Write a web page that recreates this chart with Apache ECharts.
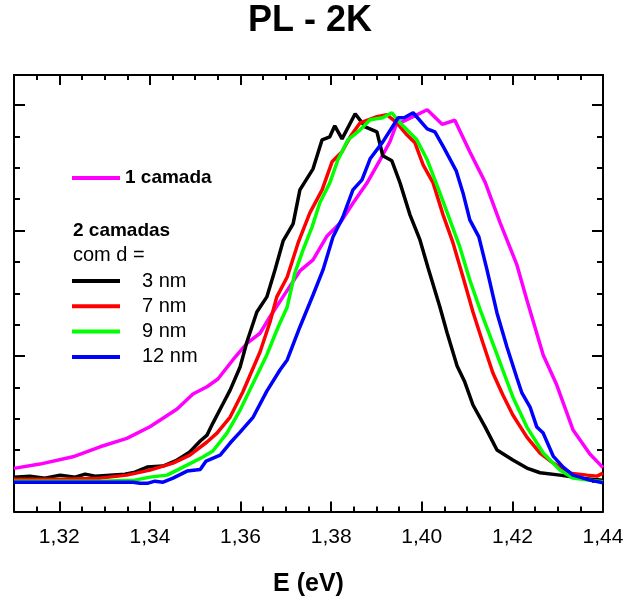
<!DOCTYPE html>
<html>
<head>
<meta charset="utf-8">
<script src="https://cdn.jsdelivr.net/npm/echarts@6/dist/echarts.min.js"></script>
<style>html,body{margin:0;padding:0;background:#fff;}#c{width:630px;height:596px;}</style>
</head>
<body>
<div id="c"></div>
<script>
// ---- data (E in eV, PL intensity in arbitrary units) ----
const camada1X = [1.3100,1.3157,1.3230,1.3290,1.3349,1.3400,1.3460,1.3495,1.3526,1.3550,1.3583,1.3614,1.3643,1.3665,1.3694,1.3731,1.3760,1.3791,1.3820,1.3848,1.3879,1.3908,1.3930,1.3945,1.3959,1.3974,1.4012,1.4045,1.4073,1.4106,1.4140,1.4173,1.4210,1.4232,1.4268,1.4298,1.4334,1.4371,1.4400];
const camada1Y = [0.104,0.138,0.196,0.276,0.343,0.436,0.577,0.697,0.755,0.816,0.968,1.101,1.181,1.313,1.473,1.678,1.766,1.957,2.061,2.218,2.378,2.564,2.710,2.856,2.869,2.896,2.963,2.847,2.879,2.628,2.384,2.061,1.726,1.447,1.008,0.768,0.409,0.218,0.110];

const d3X = [1.3100,1.3135,1.3168,1.3202,1.3235,1.3257,1.3279,1.3312,1.3345,1.3367,1.3394,1.3429,1.3460,1.3488,1.3511,1.3526,1.3539,1.3561,1.3577,1.3599,1.3614,1.3636,1.3658,1.3676,1.3694,1.3716,1.3731,1.3760,1.3780,1.3797,1.3808,1.3824,1.3853,1.3875,1.3901,1.3914,1.3934,1.3952,1.3974,1.3996,1.4014,1.4040,1.4056,1.4078,1.4095,1.4113,1.4140,1.4166,1.4201,1.4232,1.4261,1.4305,1.4349,1.4400];
const d3Y = [0.034,0.042,0.026,0.050,0.034,0.058,0.042,0.050,0.058,0.074,0.114,0.122,0.170,0.234,0.322,0.369,0.465,0.617,0.728,0.912,1.111,1.351,1.471,1.686,1.917,2.053,2.324,2.492,2.723,2.747,2.835,2.731,2.931,2.827,2.787,2.596,2.556,2.380,2.125,1.925,1.702,1.391,1.183,0.920,0.792,0.609,0.433,0.250,0.170,0.106,0.069,0.050,0.026,0.010];

const d7X = [1.3100,1.3202,1.3290,1.3349,1.3400,1.3451,1.3488,1.3526,1.3548,1.3577,1.3605,1.3643,1.3665,1.3680,1.3703,1.3727,1.3753,1.3780,1.3802,1.3824,1.3842,1.3864,1.3901,1.3923,1.3945,1.3967,1.3985,1.4003,1.4025,1.4047,1.4069,1.4091,1.4113,1.4135,1.4157,1.4179,1.4201,1.4232,1.4261,1.4290,1.4327,1.4365,1.4387,1.4400];
const d7Y = [0.018,0.018,0.026,0.050,0.090,0.146,0.210,0.314,0.385,0.513,0.713,1.032,1.271,1.471,1.630,1.901,2.141,2.324,2.548,2.628,2.747,2.859,2.907,2.923,2.859,2.763,2.699,2.524,2.380,2.125,1.901,1.630,1.351,1.103,0.864,0.689,0.529,0.353,0.226,0.146,0.066,0.050,0.042,0.066];

const d9X = [1.3100,1.3202,1.3290,1.3367,1.3400,1.3438,1.3482,1.3517,1.3539,1.3570,1.3599,1.3628,1.3658,1.3683,1.3703,1.3720,1.3738,1.3758,1.3775,1.3797,1.3815,1.3837,1.3864,1.3886,1.3914,1.3934,1.3952,1.3989,1.4012,1.4040,1.4062,1.4084,1.4106,1.4129,1.4173,1.4201,1.4232,1.4268,1.4305,1.4334,1.4371,1.4400];
const d9Y = [0.002,0.002,0.002,0.010,0.034,0.050,0.130,0.194,0.242,0.385,0.569,0.784,1.008,1.231,1.391,1.662,1.846,2.029,2.221,2.380,2.564,2.723,2.803,2.883,2.899,2.939,2.859,2.723,2.564,2.300,2.085,1.869,1.606,1.367,0.944,0.673,0.433,0.226,0.090,0.026,0.010,-0.003];

const d12X = [1.3100,1.3202,1.3290,1.3363,1.3378,1.3396,1.3411,1.3429,1.3451,1.3482,1.3511,1.3524,1.3555,1.3577,1.3599,1.3628,1.3658,1.3687,1.3703,1.3731,1.3760,1.3782,1.3804,1.3826,1.3848,1.3868,1.3886,1.3914,1.3948,1.3961,1.3981,1.4012,1.4029,1.4049,1.4076,1.4091,1.4106,1.4126,1.4144,1.4166,1.4188,1.4210,1.4221,1.4239,1.4254,1.4268,1.4290,1.4312,1.4334,1.4371,1.4400];
const d12Y = [-0.006,-0.006,-0.006,-0.006,-0.014,-0.014,0.002,-0.006,0.026,0.082,0.094,0.162,0.210,0.306,0.393,0.513,0.720,0.888,0.968,1.231,1.486,1.686,1.949,2.109,2.324,2.404,2.572,2.707,2.899,2.899,2.939,2.811,2.787,2.659,2.476,2.300,2.085,1.949,1.686,1.343,1.072,0.824,0.705,0.593,0.433,0.385,0.202,0.114,0.050,0.010,-0.011];

const xMajorTicks = [1.32,1.34,1.36,1.38,1.40,1.42,1.44];
const xMinorTicks = [1.315,1.325,1.33,1.335,1.345,1.35,1.355,1.365,1.37,1.375,1.385,1.39,1.395,1.405,1.41,1.415,1.425,1.43,1.435];
const yMajorTicks = [0,1,2,3];
const yMinorTicks = [0.25,0.5,0.75,1.25,1.5,1.75,2.25,2.5,2.75];

const seriesNames = ['1 camada','3 nm','7 nm','9 nm','12 nm'];
const seriesColors = ['#ff00ff','#000000','#ff0000','#00ff00','#0000ff'];

// ---- chart ----
const FONT = 'Liberation Sans, Arial, sans-serif';
const zip = (xs, ys) => xs.map((x, i) => [x, ys[i]]);
const allData = [zip(camada1X, camada1Y), zip(d3X, d3Y), zip(d7X, d7Y), zip(d9X, d9Y), zip(d12X, d12Y)];

const X_MIN = 1.31, X_MAX = 1.44, Y_MIN = -0.24, Y_MAX = 3.24;
function xAxisDef(pos, ticks, len, withLine, withLabels) {
  return {
    type: 'value', position: pos, min: X_MIN, max: X_MAX,
    axisLine: { show: withLine, onZero: false, lineStyle: { color: '#000', width: 2 } },
    axisTick: { show: true, inside: true, length: len, customValues: ticks, lineStyle: { color: '#000', width: 2 } },
    axisLabel: withLabels ? {
      show: true, customValues: xMajorTicks, margin: 15,
      color: '#000', fontSize: 21, fontFamily: FONT,
      formatter: v => v.toFixed(2).replace('.', ',')
    } : { show: false },
    splitLine: { show: false }
  };
}
function yAxisDef(pos, ticks, len, withLine) {
  return {
    type: 'value', position: pos, min: Y_MIN, max: Y_MAX,
    axisLine: { show: withLine, onZero: false, lineStyle: { color: '#000', width: 2 } },
    axisTick: { show: true, inside: true, length: len, customValues: ticks, lineStyle: { color: '#000', width: 2 } },
    axisLabel: { show: false },
    splitLine: { show: false }
  };
}

const xAxes = [
  xAxisDef('bottom', xMajorTicks, 10, true, true),
  xAxisDef('bottom', xMinorTicks, 5, false, false),
  xAxisDef('top', xMajorTicks, 10, true, false),
  xAxisDef('top', xMinorTicks, 5, false, false)
];
xAxes[0].name = 'E (eV)';
xAxes[0].nameLocation = 'middle';
xAxes[0].nameGap = 60;
xAxes[0].nameTextStyle = { color: '#000', fontSize: 25, fontWeight: 'bold', fontFamily: FONT };

const yAxes = [
  yAxisDef('left', yMajorTicks, 11, true),
  yAxisDef('left', yMinorTicks, 6, false),
  yAxisDef('right', yMajorTicks, 11, true),
  yAxisDef('right', yMinorTicks, 6, false)
];

const chart = echarts.init(document.getElementById('c'));
chart.setOption({
  animation: false,
  backgroundColor: '#fff',
  grid: { left: 14, right: 27, top: 75, bottom: 84.5, containLabel: false, outerBoundsMode: 'none' },
  xAxis: xAxes,
  yAxis: yAxes,
  legend: [
    {
      data: [seriesNames[0]], left: 72, top: 168, padding: 0,
      icon: 'rect', itemWidth: 48, itemHeight: 4, selectedMode: false,
      textStyle: { color: '#000', fontSize: 19, fontWeight: 'bold', fontFamily: FONT, lineHeight: 20 }
    },
    {
      data: seriesNames.slice(1), left: 72, top: 271, padding: 0, orient: 'vertical',
      icon: 'rect', itemWidth: 48, itemHeight: 4, itemGap: 5.3, selectedMode: false,
      textStyle: { color: '#000', fontSize: 20, fontFamily: FONT, lineHeight: 20, padding: [0, 0, 0, 17] }
    }
  ],
  graphic: [
    { type: 'text', x: 310, y: 21, style: { text: 'PL - 2K', fill: '#000', font: 'bold 36px ' + FONT, align: 'center', verticalAlign: 'middle' } },
    { type: 'text', x: 73, y: 231, style: { text: '2 camadas', fill: '#000', font: 'bold 19px ' + FONT, verticalAlign: 'middle' } },
    { type: 'text', x: 73, y: 255, style: { text: 'com d =', fill: '#000', font: '20px ' + FONT, verticalAlign: 'middle' } }
  ],
  series: allData.map((d, i) => ({
    type: 'line', name: seriesNames[i], data: d,
    xAxisIndex: 0, yAxisIndex: 0,
    showSymbol: false, symbol: 'none', smooth: false,
    color: seriesColors[i],
    lineStyle: { color: seriesColors[i], width: 3.5 },
    z: 2 + i
  }))
});
</script>
</body>
</html>
